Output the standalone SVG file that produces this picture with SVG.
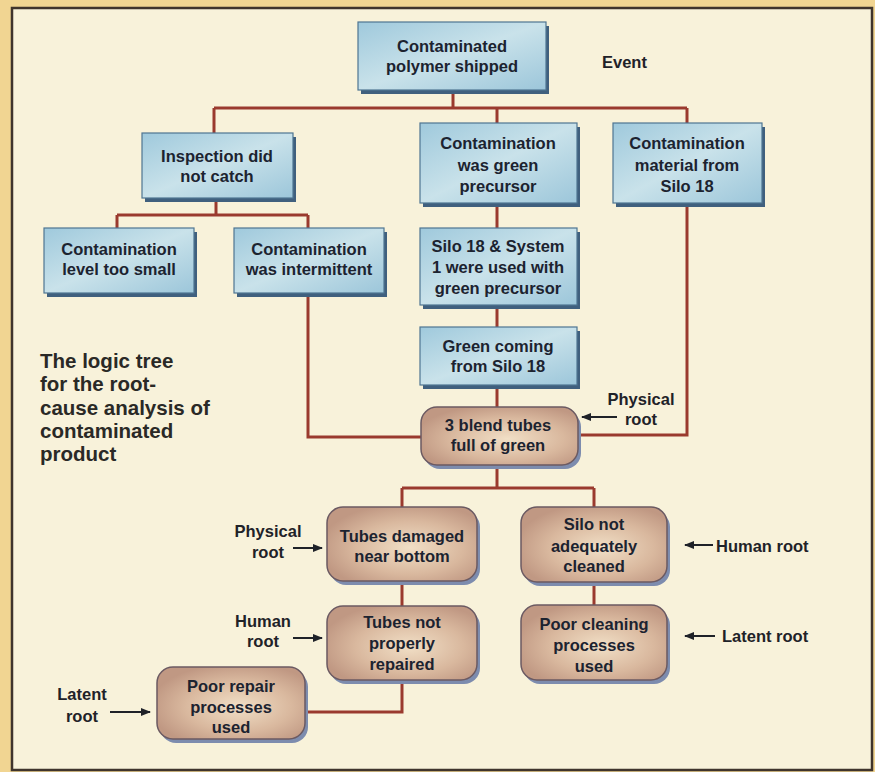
<svg xmlns="http://www.w3.org/2000/svg" width="875" height="772" viewBox="0 0 875 772">
<defs>
<style>
.bg{fill:#f8f2da}
.frame{fill:none;stroke:#3f342c;stroke-width:2.5}
.blue{fill:url(#gBlue);stroke:#4f7592;stroke-width:1.2}
.bshadow{fill:#40607e}
.brown{fill:url(#gBrown);stroke:#6b5a62;stroke-width:1.5}
.rshadow{fill:#7d8cae}
.t{font-family:"Liberation Sans",Arial,sans-serif;font-weight:bold;font-size:16.5px;fill:#1c2330;text-anchor:middle}
.lbl{font-family:"Liberation Sans",Arial,sans-serif;font-weight:bold;font-size:16.5px;fill:#1f2228}
.cap{font-family:"Liberation Sans",Arial,sans-serif;font-weight:bold;font-size:20.5px;fill:#2a2926}
.conn{fill:none;stroke:#9a3a2e;stroke-width:3}
.arr{fill:none;stroke:#1f2228;stroke-width:2}
</style>
<linearGradient id="gBlue" x1="0" y1="0" x2="1" y2="1">
<stop offset="0" stop-color="#9fc9dc"/>
<stop offset="0.5" stop-color="#c9e2ea"/>
<stop offset="1" stop-color="#9cc6da"/>
</linearGradient>
<radialGradient id="gBrown" cx="0.55" cy="0.55" r="0.6">
<stop offset="0" stop-color="#f1dfc6"/>
<stop offset="0.6" stop-color="#d9b89e"/>
<stop offset="1" stop-color="#c09883"/>
</radialGradient>
<marker id="ah" viewBox="0 0 10 10" refX="9" refY="5" markerWidth="5" markerHeight="5" orient="auto">
<path d="M0,1 L10,5 L0,9 Z" fill="#1f2228"/>
</marker>
</defs>
<rect x="0" y="0" width="875" height="772" fill="#f1d592"/>
<rect x="12" y="8" width="860" height="762" class="bg"/>
<rect x="12" y="8" width="860" height="762" class="frame"/>

<g id="connectors">
<path class="conn" d="M453,90 V108 M214,108 H687 M214,108 V133 M497,108 V123 M687,108 V123"/>
<path class="conn" d="M216,198 V215 M117,215 H308 M117,215 V228 M308,215 V228"/>
<path class="conn" d="M497,203 V228 M497,305 V327 M497,385 V407"/>
<path class="conn" d="M308,293 V437 H421"/>
<path class="conn" d="M687,203 V435 H580"/>
<path class="conn" d="M497,465 V488 M402,488 H594 M402,488 V507 M594,488 V507"/>
<path class="conn" d="M402,580 V606 M594,582 V605"/>
<path class="conn" d="M402,680 V712 H305"/>
</g>

<g id="n1">
<rect x="361" y="26" width="188" height="68" class="bshadow"/>
<rect x="358" y="22" width="188" height="68" class="blue"/>
<text class="t" x="452" y="52">Contaminated</text>
<text class="t" x="452" y="72">polymer shipped</text>
</g>
<g id="event"><text class="lbl" x="602" y="68">Event</text></g>

<g id="n2">
<rect x="145" y="137" width="151" height="65" class="bshadow"/>
<rect x="142" y="133" width="151" height="65" class="blue"/>
<text class="t" x="217" y="162">Inspection did</text>
<text class="t" x="217" y="182">not catch</text>
</g>
<g id="n3">
<rect x="423" y="127" width="157" height="80" class="bshadow"/>
<rect x="420" y="123" width="157" height="80" class="blue"/>
<text class="t" x="498" y="149">Contamination</text>
<text class="t" x="498" y="171">was green</text>
<text class="t" x="498" y="192">precursor</text>
</g>
<g id="n4">
<rect x="616" y="127" width="149" height="80" class="bshadow"/>
<rect x="613" y="123" width="149" height="80" class="blue"/>
<text class="t" x="687" y="149">Contamination</text>
<text class="t" x="687" y="171">material from</text>
<text class="t" x="687" y="192">Silo 18</text>
</g>
<g id="n5">
<rect x="47" y="232" width="150" height="65" class="bshadow"/>
<rect x="44" y="228" width="150" height="65" class="blue"/>
<text class="t" x="119" y="255">Contamination</text>
<text class="t" x="119" y="275">level too small</text>
</g>
<g id="n6">
<rect x="237" y="232" width="150" height="65" class="bshadow"/>
<rect x="234" y="228" width="150" height="65" class="blue"/>
<text class="t" x="309" y="255">Contamination</text>
<text class="t" x="309" y="275">was intermittent</text>
</g>
<g id="n7">
<rect x="423" y="232" width="157" height="77" class="bshadow"/>
<rect x="420" y="228" width="157" height="77" class="blue"/>
<text class="t" x="498" y="252">Silo 18 &amp; System</text>
<text class="t" x="498" y="273">1 were used with</text>
<text class="t" x="498" y="294">green precursor</text>
</g>
<g id="n8">
<rect x="423" y="331" width="157" height="58" class="bshadow"/>
<rect x="420" y="327" width="157" height="58" class="blue"/>
<text class="t" x="498" y="352">Green coming</text>
<text class="t" x="498" y="372">from Silo 18</text>
</g>

<g id="n9">
<rect x="424" y="411" width="157" height="58" rx="16" class="rshadow"/>
<rect x="421" y="407" width="157" height="58" rx="16" class="brown"/>
<text class="t" x="498" y="431">3 blend tubes</text>
<text class="t" x="498" y="451">full of green</text>
</g>
<g id="lbl-physical1">
<text class="lbl" x="641" y="405" text-anchor="middle">Physical</text>
<text class="lbl" x="641" y="425" text-anchor="middle">root</text>
<line class="arr" x1="617" y1="417" x2="582" y2="417" marker-end="url(#ah)"/>
</g>

<g id="n10">
<rect x="330" y="511" width="150" height="74" rx="16" class="rshadow"/>
<rect x="327" y="507" width="150" height="74" rx="16" class="brown"/>
<text class="t" x="402" y="542">Tubes damaged</text>
<text class="t" x="402" y="562">near bottom</text>
</g>
<g id="n11">
<rect x="524" y="511" width="146" height="75" rx="16" class="rshadow"/>
<rect x="521" y="507" width="146" height="75" rx="16" class="brown"/>
<text class="t" x="594" y="530">Silo not</text>
<text class="t" x="594" y="552">adequately</text>
<text class="t" x="594" y="572">cleaned</text>
</g>
<g id="n12">
<rect x="330" y="610" width="150" height="74" rx="16" class="rshadow"/>
<rect x="327" y="606" width="150" height="74" rx="16" class="brown"/>
<text class="t" x="402" y="628">Tubes not</text>
<text class="t" x="402" y="649">properly</text>
<text class="t" x="402" y="670">repaired</text>
</g>
<g id="n13">
<rect x="524" y="609" width="146" height="75" rx="16" class="rshadow"/>
<rect x="521" y="605" width="146" height="75" rx="16" class="brown"/>
<text class="t" x="594" y="630">Poor cleaning</text>
<text class="t" x="594" y="651">processes</text>
<text class="t" x="594" y="672">used</text>
</g>
<g id="n14">
<rect x="160" y="671" width="148" height="72" rx="16" class="rshadow"/>
<rect x="157" y="667" width="148" height="72" rx="16" class="brown"/>
<text class="t" x="231" y="692">Poor repair</text>
<text class="t" x="231" y="713">processes</text>
<text class="t" x="231" y="733">used</text>
</g>

<g id="lbl-physical2">
<text class="lbl" x="268" y="537" text-anchor="middle">Physical</text>
<text class="lbl" x="268" y="558" text-anchor="middle">root</text>
<line class="arr" x1="293" y1="548" x2="322" y2="548" marker-end="url(#ah)"/>
</g>
<g id="lbl-human1">
<text class="lbl" x="263" y="627" text-anchor="middle">Human</text>
<text class="lbl" x="263" y="647" text-anchor="middle">root</text>
<line class="arr" x1="293" y1="638" x2="322" y2="638" marker-end="url(#ah)"/>
</g>
<g id="lbl-latent1">
<text class="lbl" x="82" y="700" text-anchor="middle">Latent</text>
<text class="lbl" x="82" y="722" text-anchor="middle">root</text>
<line class="arr" x1="110" y1="712" x2="150" y2="712" marker-end="url(#ah)"/>
</g>
<g id="lbl-human2">
<line class="arr" x1="713" y1="545" x2="685" y2="545" marker-end="url(#ah)"/>
<text class="lbl" x="716" y="552">Human root</text>
</g>
<g id="lbl-latent2">
<line class="arr" x1="715" y1="636" x2="685" y2="636" marker-end="url(#ah)"/>
<text class="lbl" x="722" y="642">Latent root</text>
</g>

<g id="caption">
<text class="cap" x="40" y="368">The logic tree</text>
<text class="cap" x="40" y="391">for the root-</text>
<text class="cap" x="40" y="415">cause analysis of</text>
<text class="cap" x="40" y="438">contaminated</text>
<text class="cap" x="40" y="461">product</text>
</g>
</svg>
